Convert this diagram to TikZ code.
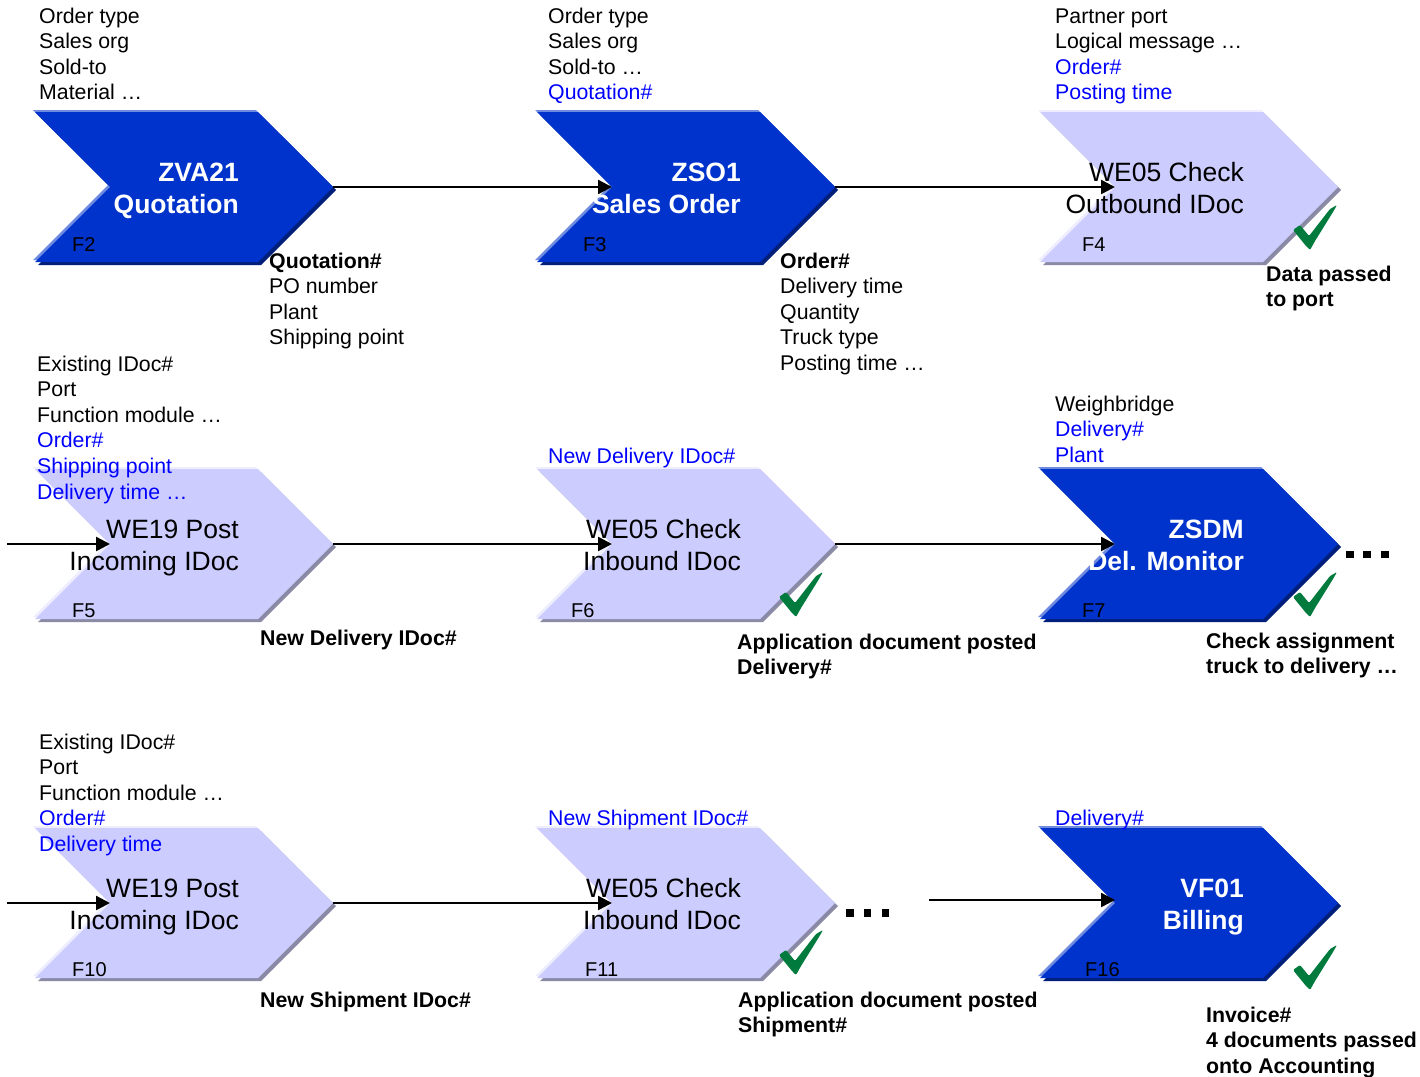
\documentclass[tikz,border=0pt]{standalone}
\usepackage{fontspec}
\setmainfont{Liberation Sans}
\usetikzlibrary{shapes.symbols,arrows.meta,shadows,calc}

\definecolor{chevdark}{HTML}{0033CC}
\definecolor{chevdarkhi}{HTML}{6F8BE0}
\definecolor{chevdarksh}{HTML}{001F7A}
\definecolor{chevlight}{HTML}{CCCCFF}
\definecolor{chevlighthi}{HTML}{EEEEFF}
\definecolor{chevlightsh}{HTML}{8A8AA6}
\definecolor{fieldblue}{HTML}{0000FF}
\definecolor{tickgreen}{HTML}{007A3D}

% multi-line text block whose baseline is the first line
\newcommand\linesof[2][l]{\begin{tabular}[t]{@{}#1@{}}#2\end{tabular}}
\newcommand\fld[1]{{\color{fieldblue}#1}}

% brush-stroke check mark, placed by its top-left corner
\newcommand\tickat[2]{%
  \fill[tickgreen, rounded corners=1.2pt, shift={(#1,#2)}]
    (0,25) -- (7,20) -- (16,31) -- (37,4) -- (44,0) -- (40,7)
    -- (22,36) -- (17,45) -- (13,41) -- cycle;}

\tikzset{
  chev/.style={shape=signal, signal from=west, signal to=east,
    minimum width=298pt, minimum height=150pt,
    inner sep=0pt, outer sep=0pt, draw=none},
  chevdk/.style={chev, fill=chevdark,
    general shadow={shadow xshift=3pt, shadow yshift=-3pt, fill=chevdarksh},
    general shadow={shadow xshift=-2pt, shadow yshift=2pt, fill=chevdarkhi}},
  chevlt/.style={chev, fill=chevlight,
    general shadow={shadow xshift=3pt, shadow yshift=-3pt, fill=chevlightsh},
    general shadow={shadow xshift=-2pt, shadow yshift=2pt, fill=chevlighthi}},
  ttl/.style={inner sep=0pt, anchor=base east, font=\fontsize{26.5}{32}\selectfont},
  ttldk/.style={ttl, text=white, font=\fontsize{26.5}{32}\selectfont\bfseries},
  fnum/.style={inner sep=0pt, anchor=base west, font=\fontsize{20}{24}\selectfont},
  anno/.style={inner sep=0pt, anchor=base west, font=\fontsize{21.3}{25.6}\selectfont},
  annob/.style={anno, font=\fontsize{21.3}{25.6}\selectfont\bfseries},
  flow/.style={line width=2.4pt, -{Triangle[length=14pt,width=14pt]}},
}

\begin{document}
\begin{tikzpicture}[x=1pt, y=-1pt]
\fill[white] (0,0) rectangle (1420,1076);
\useasboundingbox (0,0) rectangle (1420,1076);

% ---- chevrons
\node[chevdk] (c1) at (184,187) {};
\node[chevdk] (c2) at (686,187) {};
\node[chevlt] (c3) at (1189,187) {};
\node[chevlt] (c4) at (184,544) {};
\node[chevlt] (c5) at (686,544) {};
\node[chevdk] (c6) at (1189,544) {};
\node[chevlt] (c7) at (184,903) {};
\node[chevlt] (c8) at (686,903) {};
\node[chevdk] (c9) at (1189,903) {};

% ---- connectors
\coordinate (in4) at (7,544);
\coordinate (in7) at (7,903);
\coordinate (in9) at (929,900);
\draw[flow] (c1.east) -- (c2.west);
\draw[flow] (c2.east) -- (c3.west);
\draw[flow] (in4) -- (c4.west);
\draw[flow] (c4.east) -- (c5.west);
\draw[flow] (c5.east) -- (c6.west);
\draw[flow] (in7) -- (c7.west);
\draw[flow] (c7.east) -- (c8.west);
\draw[flow] (in9) -- (c9.west |- in9);

% ---- continuation dots
\foreach \x in {1350,1367,1385} \fill (\x-3.75,550.75) rectangle ++(7.5,7.5);
\foreach \x in {850,867.5,885.5} \fill (\x-3.75,909.25) rectangle ++(7.5,7.5);

% ---- chevron titles
\node[ttldk] (t1) at ($(c1.center)+(55,-6)$) {\linesof[r]{ZVA21\\Quotation}};
\node[ttldk] (t2) at ($(c2.center)+(55,-6)$) {\linesof[r]{ZSO1\\Sales Order}};
\node[ttl]   (t3) at ($(c3.center)+(55,-6)$) {\linesof[r]{WE05 Check\\Outbound IDoc}};
\node[ttl]   (t4) at ($(c4.center)+(55,-6)$) {\linesof[r]{WE19 Post\\Incoming IDoc}};
\node[ttl]   (t5) at ($(c5.center)+(55,-6)$) {\linesof[r]{WE05 Check\\Inbound IDoc}};
\node[ttldk] (t6) at ($(c6.center)+(55,-6)$) {\linesof[r]{ZSDM\\Del. Monitor}};
\node[ttl]   (t7) at ($(c7.center)+(55,-6)$) {\linesof[r]{WE19 Post\\Incoming IDoc}};
\node[ttl]   (t8) at ($(c8.center)+(55,-6)$) {\linesof[r]{WE05 Check\\Inbound IDoc}};
\node[ttldk] (t9) at ($(c9.center)+(55,-6)$) {\linesof[r]{VF01\\Billing}};

% ---- step numbers
\node[fnum] (f1) at (72,251) {F2};
\node[fnum] (f2) at (583,251) {F3};
\node[fnum] (f3) at (1082,251) {F4};
\node[fnum] (f4) at (72,617) {F5};
\node[fnum] (f5) at (571,617) {F6};
\node[fnum] (f6) at (1082,617) {F7};
\node[fnum] (f7) at (72,976) {F10};
\node[fnum] (f8) at (585,976) {F11};
\node[fnum] (f9) at (1085,976) {F16};

% ---- check marks
\tickat{1293}{205}
\tickat{779}{572}
\tickat{1293}{572}
\tickat{779}{930}
\tickat{1293}{945}

% ---- input fields
\node[anno] (a1) at (39,23) {\linesof{Order type\\Sales org\\Sold-to\\Material …}};
\node[anno] (a2) at (548,23) {\linesof{Order type\\Sales org\\Sold-to …\\\fld{Quotation\#}}};
\node[anno] (a3) at (1055,23) {\linesof{Partner port\\Logical message …\\\fld{Order\#}\\\fld{Posting time}}};
\node[anno] (a4) at (37,371) {\linesof{Existing IDoc\#\\Port\\Function module …\\\fld{Order\#}\\\fld{Shipping point}\\\fld{Delivery time …}}};
\node[anno] (a5) at (548,463) {\fld{New Delivery IDoc\#}};
\node[anno] (a6) at (1055,411) {\linesof{Weighbridge\\\fld{Delivery\#}\\\fld{Plant}}};
\node[anno] (a7) at (39,749) {\linesof{Existing IDoc\#\\Port\\Function module …\\\fld{Order\#}\\\fld{Delivery time}}};
\node[anno] (a8) at (548,825) {\fld{New Shipment IDoc\#}};
\node[anno] (a9) at (1055,825) {\fld{Delivery\#}};

% ---- results
\node[anno] (b1) at (269,268) {\linesof{\textbf{Quotation\#}\\PO number\\Plant\\Shipping point}};
\node[anno] (b2) at (780,268) {\linesof{\textbf{Order\#}\\Delivery time\\Quantity\\Truck type\\Posting time …}};
\node[annob] (b3) at (1266,281) {\linesof{Data passed\\to port}};
\node[annob] (b4) at (260,645) {New Delivery IDoc\#};
\node[annob] (b5) at (737,649) {\linesof{Application document posted\\Delivery\#}};
\node[annob] (b6) at (1206,648) {\linesof{Check assignment\\truck to delivery …}};
\node[annob] (b7) at (260,1007) {New Shipment IDoc\#};
\node[annob] (b8) at (738,1007) {\linesof{Application document posted\\Shipment\#}};
\node[annob] (b9) at (1206,1022) {\linesof{Invoice\#\\4 documents passed\\onto Accounting}};
\end{tikzpicture}
\end{document}
